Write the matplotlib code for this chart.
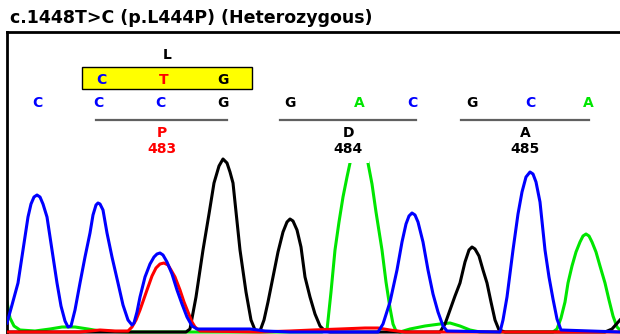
# chromatogram.py

import matplotlib
matplotlib.use("Agg")
import matplotlib.pyplot as plt
from matplotlib.patches import Rectangle

# trace samples (scan position, signal)
blue_x = [7, 12, 18, 23, 28, 31, 34, 37, 40, 43, 47, 52, 57, 61, 65, 68,
          71, 75, 80, 85, 90, 93, 96, 98, 100, 103, 107, 112, 118, 123, 128, 132,
          134, 137, 140, 145, 150, 154, 157, 160, 163, 167, 172, 177, 182, 187, 192, 197, 205,
          230, 250, 258, 265, 290, 378,
          383, 390, 397, 402, 406, 409, 412, 415, 418, 423, 428, 433, 438, 443, 447, 500,
          503, 507, 513, 518, 522, 526, 530, 533, 536, 540, 545, 549, 553, 557, 561, 620]
blue_y = [9, 27, 49, 82, 115, 128, 135, 137, 135, 128, 115, 82, 49, 26, 11, 5,
          6, 22, 49, 75, 99, 117, 127, 129, 128, 122, 99, 75, 49, 27, 12, 7,
          9, 20, 35, 55, 68, 75, 78, 79, 77, 70, 58, 42, 28, 15, 6, 3, 3,
          3, 3, 2, 1, 0, 0,
          8, 30, 62, 90, 108, 116, 119, 117, 110, 90, 62, 38, 20, 6, 1, 0,
          12, 35, 82, 118, 140, 155, 160, 158, 150, 130, 82, 55, 33, 13, 2, 0]

red_x = [7, 80, 100, 115, 128, 132, 136, 140, 147, 152, 156, 160, 164, 168, 171, 175, 180,
         184, 188, 192, 195, 200, 260, 290, 313, 340, 365, 378, 390, 405, 620]
red_y = [0, 0, 2, 1, 1, 5, 12, 22, 42, 56, 64, 68, 69, 67, 62, 55, 42,
         30, 20, 10, 5, 1, 0, 1, 2, 3, 4, 4, 2, 0, 0]

black_x = [7, 186, 190, 196, 203, 209, 214, 219, 223, 227, 230, 233, 240, 246, 251, 255,
           260, 264, 268, 273, 278, 283, 287, 290, 293, 297, 301, 305, 310, 315, 320, 325, 330,
           440, 445, 450, 455, 460, 465, 469, 472, 475, 479, 483, 487, 491, 495, 499, 505,
           605, 612, 620]
black_y = [0, 0, 3, 35, 82, 118, 149, 166, 173, 169, 160, 149, 82, 40, 12, 2,
           1, 12, 30, 55, 80, 100, 110, 113, 111, 102, 85, 55, 35, 18, 6, 1, 0,
           0, 8, 22, 36, 49, 70, 82, 85, 83, 76, 62, 49, 30, 12, 2, 0,
           0, 3, 12]

green_x = [7, 10, 14, 20, 35, 50, 62, 75, 88, 100, 130,
           322, 327, 331, 335, 339, 343, 347, 350, 354, 359, 364, 368, 372, 376, 382, 386, 390,
           393, 396, 400, 410, 425, 440, 450, 460, 470, 480,
           553, 557, 561, 565, 568, 572, 576, 580, 583, 586, 589, 592, 596, 600, 605, 609, 613,
           617, 620]
green_y = [30, 14, 6, 2, 1, 3, 5, 5, 3, 1, 0,
           0, 2, 40, 82, 110, 135, 155, 169, 188, 196, 188, 169, 148, 120, 82, 50, 24,
           8, 1, 0, 3, 6, 8, 9, 6, 2, 0,
           0, 3, 14, 30, 49, 66, 80, 90, 96, 98, 96, 90, 80, 66, 49, 32, 16,
           5, 2]

# called bases
base_x = [37, 98, 160, 223, 290, 359, 412, 472, 530, 588]
base_seq = ["C", "C", "C", "G", "G", "A", "C", "G", "C", "A"]

# reference codon shown in the yellow box
ref_x = [101, 164, 223]
ref_seq = ["C", "T", "G"]

# codons: underline span, amino acid, number
codon_start = [96, 280, 461]
codon_end = [227, 416, 589]
codon_aa = ["P", "D", "A"]
codon_num = ["483", "484", "485"]
codon_colors = ["#ff0000", "black", "black"]

colors = {"A": "#00e600", "C": "#0000ff", "G": "black", "T": "#ff0000"}

fig = plt.figure(figsize=(6.2, 3.34), dpi=100)
ax = fig.add_axes([7 / 620, 0, 613 / 620, 302 / 334])
ax.set_xlim(7, 620)
ax.set_ylim(-2, 300)

ax.plot(green_x, green_y, color="#00e600", lw=2.2, zorder=2, solid_joinstyle="round")
ax.plot(black_x, black_y, color="black", lw=2.2, zorder=3, solid_joinstyle="round")
ax.plot(red_x, red_y, color="#ff0000", lw=2.2, zorder=4, solid_joinstyle="round")
ax.plot(blue_x, blue_y, color="#0000ff", lw=2.2, zorder=5, solid_joinstyle="round")

ax.set_xticks([])
ax.set_yticks([])
for side in ["right", "bottom"]:
    ax.spines[side].set_visible(False)
for side in ["left", "top"]:
    ax.spines[side].set_linewidth(2)

font = dict(fontsize=10, fontweight="bold", ha="center", va="center")

for x, b in zip(base_x, base_seq):
    ax.text(x, 229, b, color=colors[b], zorder=6, **font)

ax.add_patch(Rectangle((82, 243), 170, 22, facecolor="#ffff00", edgecolor="black",
                       lw=1, zorder=6))
for x, b in zip(ref_x, ref_seq):
    ax.text(x, 252, b, color=colors[b], zorder=7, **font)
ax.text(167, 277, "L", color="black", zorder=7, **font)

for x0, x1, aa, num, c in zip(codon_start, codon_end, codon_aa, codon_num, codon_colors):
    mid = (x0 + x1) / 2
    # white box behind the label hides the peak top, like the original software
    ax.text(mid, 191, aa + "\n" + num, color=c, zorder=8, linespacing=1.25,
            bbox=dict(facecolor="white", edgecolor="none", pad=4.5), **font)
    ax.plot([x0, x1], [212, 212], color="#606060", lw=1.6, zorder=9)

fig.text(10 / 620, 1 - 18 / 334, "c.1448T>C (p.L444P) (Heterozygous)",
         fontsize=12.5, fontweight="bold", ha="left", va="center")

fig.savefig("out.png", dpi=100)
